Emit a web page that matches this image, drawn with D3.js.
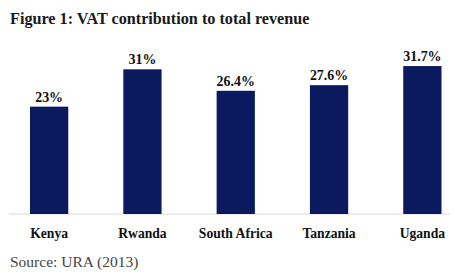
<!DOCTYPE html>
<meta charset="utf-8">
<script src="https://d3js.org/d3.v7.min.js"></script>
<style>
  body { margin: 0; background: #fff; }
</style>
<div id="chart"></div>
<script>
    const countries = ["Kenya", "Rwanda", "South Africa", "Tanzania", "Uganda"]
    const vatShare = [23, 31, 26.4, 27.6, 31.7]
    const valueLabels = ["23%", "31%", "26.4%", "27.6%", "31.7%"]

    const width = 454, height = 278;
    const baseY = 214;
    const serif = "'Liberation Serif', 'Times New Roman', serif";

    const svg = d3.select("#chart")
        .append("svg")
            .attr("width", width)
            .attr("height", height)
            .attr("font-family", serif);

    svg.append("text")
        .attr("x", 10)
        .attr("y", 24)
        .attr("font-size", 16.2)
        .attr("font-weight", "bold")
        .attr("fill", "#1a1a1a")
        .text("Figure 1: VAT contribution to total revenue");

    const x = d3.scaleBand()
        .domain(countries)
        .range([2, 469.5])
        .paddingInner(0.59)
        .paddingOuter(0.3);

    const y = d3.scaleLinear()
        .domain([0, 35])
        .range([baseY, baseY - 35 * 4.667]);

    // baseline
    svg.append("line")
        .attr("x1", 9).attr("x2", 450)
        .attr("y1", baseY).attr("y2", baseY)
        .attr("stroke", "#d9d9d9")
        .attr("stroke-width", 1);

    const data = countries.map((c, i) => ({c, v: vatShare[i], label: valueLabels[i]}));

    svg.selectAll("rect.bar")
        .data(data)
        .join("rect")
            .attr("class", "bar")
            .attr("x", d => x(d.c))
            .attr("y", d => y(d.v))
            .attr("width", x.bandwidth())
            .attr("height", d => baseY - y(d.v))
            .attr("fill", "#0b1a5e");

    // value labels, slightly condensed like the original
    svg.selectAll("text.val")
        .data(data)
        .join("text")
            .attr("class", "val")
            .attr("transform", d => `translate(${x(d.c) + x.bandwidth() / 2},${y(d.v) - 5}) scale(0.93,1)`)
            .attr("text-anchor", "middle")
            .attr("font-size", 15)
            .attr("font-weight", "bold")
            .attr("fill", "#111")
            .text(d => d.label);

    svg.selectAll("text.cat")
        .data(data)
        .join("text")
            .attr("class", "cat")
            .attr("transform", d => `translate(${x(d.c) + x.bandwidth() / 2},237.5) scale(0.88,1)`)
            .attr("text-anchor", "middle")
            .attr("font-size", 15.5)
            .attr("font-weight", "bold")
            .attr("fill", "#111")
            .text(d => d.c);

    svg.append("text")
        .attr("x", 10)
        .attr("y", 266.5)
        .attr("font-size", 15.5)
        .attr("fill", "#444")
        .text("Source: URA (2013)");
</script>
